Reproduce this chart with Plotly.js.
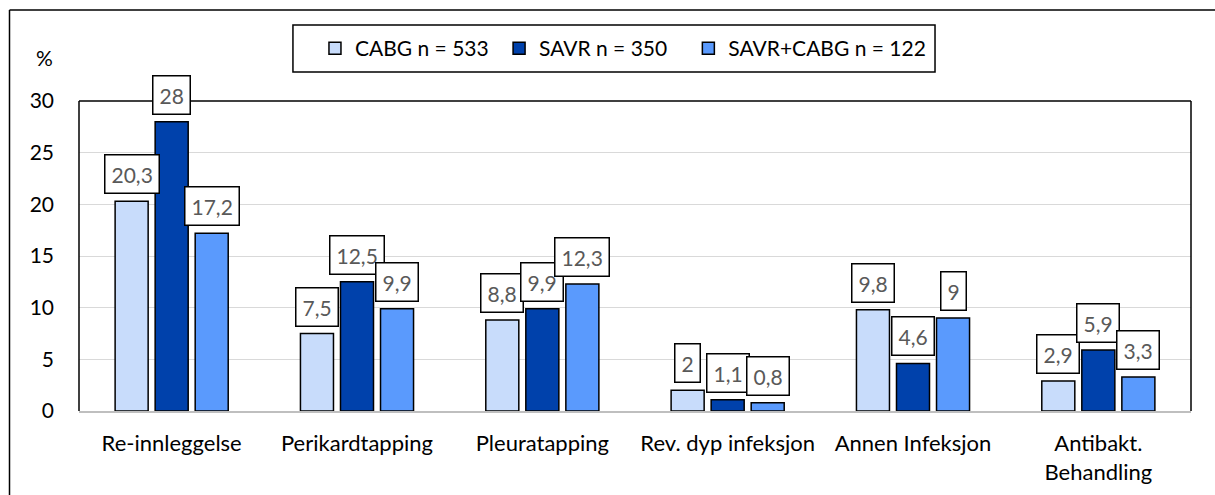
<!DOCTYPE html>
<html>
<head>
<meta charset="utf-8">
<script src="https://cdn.plot.ly/plotly-3.0.1.min.js"></script>
<style>
  html, body { margin: 0; padding: 0; background: #ffffff; }
  #chart { width: 1215px; height: 495px; }
</style>
</head>
<body>
<div id="chart"></div>
<script>
// Complications after surgery, % of patients per group
const categories = ['Re-innleggelse', 'Perikardtapping', 'Pleuratapping',
  'Rev. dyp infeksjon', 'Annen Infeksjon', 'Antibakt.<br>Behandling'];
const seriesNames = ['CABG n = 533', 'SAVR n = 350', 'SAVR+CABG n = 122'];
const cabg = [20.3, 7.5, 8.8, 2, 9.8, 2.9];
const savr = [28, 12.5, 9.9, 1.1, 4.6, 5.9];
const savrCabg = [17.2, 9.9, 12.3, 0.8, 9, 3.3];
const yTicks = [0, 5, 10, 15, 20, 25, 30];

const colors = ['#C8DCFB', '#0041AB', '#5A9AFD'];
const values = [cabg, savr, savrCabg];
// trailing non-breaking spaces even out the legend entry spacing
const legendPad = ['\u00a0', '\u00a0\u00a0\u00a0', ''];

const FONT = 'Lato, "Open Sans", sans-serif';
const bargap = 0.352;
const nSeries = values.length;
const slot = (1 - bargap) / nSeries;

const traces = values.map((vals, i) => ({
  type: 'bar',
  name: seriesNames[i] + legendPad[i],
  x: categories,
  y: vals,
  marker: { color: colors[i], line: { color: '#000000', width: 1.5 } },
  hoverinfo: 'x+y'
}));

// Value labels in white framed boxes above each bar
const fmt = v => String(v).replace('.', ',');
const annotations = [];
values.forEach((vals, i) => {
  vals.forEach((v, j) => {
    annotations.push({
      x: j + (i - (nSeries - 1) / 2) * slot,
      y: v,
      xref: 'x', yref: 'y',
      text: fmt(v),
      showarrow: false,
      yanchor: 'bottom',
      yshift: 7,
      font: { family: FONT, size: 21, color: '#595959' },
      bgcolor: '#ffffff',
      bordercolor: '#000000',
      borderwidth: 1.5,
      borderpad: 6
    });
  });
});

annotations.push({
  text: '%', xref: 'paper', yref: 'paper',
  x: -0.031, y: 1.139, showarrow: false,
  xanchor: 'center', yanchor: 'middle',
  font: { family: FONT, size: 21, color: '#000000' }
});

const lineStyle = { color: '#000000', width: 1.5 };
const shapes = [
  // outer chart frame (top and left edges)
  { type: 'line', xref: 'paper', yref: 'paper', x0: -0.0625, x1: 1.03, y0: 1.2935, y1: 1.2935, line: lineStyle },
  { type: 'line', xref: 'paper', yref: 'paper', x0: -0.0625, x1: -0.0625, y0: 1.2935, y1: -0.3, line: lineStyle },
  // plot area frame: left, top, right
  { type: 'line', xref: 'paper', yref: 'paper', x0: 0, x1: 0, y0: 0, y1: 1, line: lineStyle },
  { type: 'line', xref: 'paper', yref: 'paper', x0: 0, x1: 1, y0: 1, y1: 1, line: lineStyle },
  { type: 'line', xref: 'paper', yref: 'paper', x0: 1, x1: 1, y0: 0, y1: 1, line: lineStyle },
  // legend frame
  { type: 'rect', xref: 'paper', yref: 'paper', x0: 0.1924, x1: 0.7698, y0: 1.0935, y1: 1.2452,
    line: lineStyle, fillcolor: '#ffffff', layer: 'below' }
];

const layout = {
  width: 1215, height: 495,
  margin: { l: 79, r: 24, t: 101, b: 84 },
  paper_bgcolor: '#ffffff', plot_bgcolor: '#ffffff',
  font: { family: FONT, color: '#000000' },
  barmode: 'group',
  bargap: bargap,
  bargroupgap: 0.175,
  showlegend: true,
  legend: {
    orientation: 'h',
    x: 0.2122, y: 1.1694, xanchor: 'left', yanchor: 'middle',
    bgcolor: 'rgba(0,0,0,0)', borderwidth: 0,
    font: { family: FONT, size: 21, color: '#000000' },
    itemwidth: 30,
    traceorder: 'normal'
  },
  xaxis: {
    type: 'category',
    showgrid: false,
    showline: true, linecolor: '#BFBFBF', linewidth: 1.5,
    ticks: '',
    tickfont: { family: FONT, size: 22, color: '#000000' },
    ticklabelstandoff: 12,
    fixedrange: true
  },
  yaxis: {
    range: [0, 30],
    tickvals: yTicks,
    showgrid: true, gridcolor: '#D9D9D9', gridwidth: 1,
    zeroline: false,
    showline: false,
    ticks: '',
    tickfont: { family: FONT, size: 21, color: '#000000' },
    ticklabelstandoff: 24,
    fixedrange: true
  },
  annotations: annotations,
  shapes: shapes
};

Plotly.newPlot('chart', traces, layout, { displayModeBar: false, staticPlot: true });
</script>
</body>
</html>
